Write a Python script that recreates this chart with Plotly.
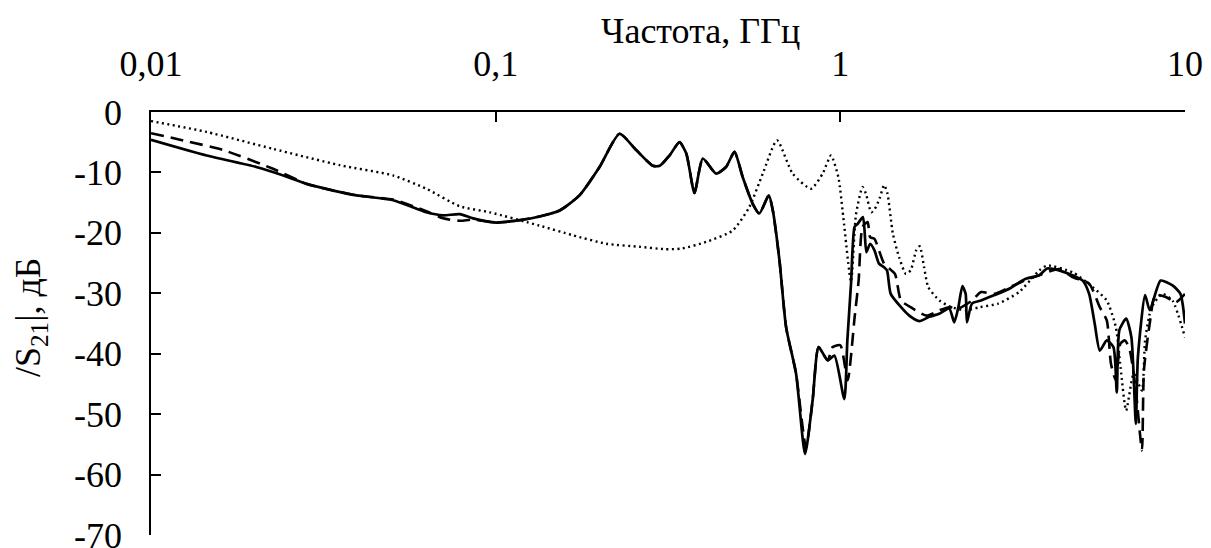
import plotly.graph_objects as go

# Frequency (GHz) and |S21| (dB)
freq_solid = [0.01, 0.0145, 0.0202, 0.0242, 0.0283, 0.0338, 0.0395, 0.0504, 0.0629, 0.0704,
              0.0787, 0.086, 0.1005, 0.1174, 0.134, 0.1533, 0.175, 0.2002, 0.2288, 0.2557,
              0.2858, 0.2993, 0.3194, 0.3415, 0.3575, 0.3774, 0.399, 0.436, 0.466, 0.493,
              0.521, 0.557, 0.582, 0.620, 0.637, 0.666, 0.696, 0.744, 0.790, 0.831,
              0.865, 0.919, 0.961, 1.027, 1.048, 1.074, 1.1, 1.123, 1.163, 1.19, 1.22, 1.256,
              1.295, 1.34, 1.366, 1.4, 1.5, 1.585, 1.694, 1.811, 1.936, 2.07,
              2.14, 2.2, 2.26, 2.31, 2.33, 2.41, 2.56, 2.8, 3.1, 3.45,
              3.78, 3.98, 4.31, 4.71, 5.05, 5.27, 5.47, 5.66, 5.93, 6.2, 6.34,
              6.45, 6.75, 6.99, 7.2, 7.3, 7.66, 7.9, 8.5, 9.2, 9.7, 10.0]
s21_solid = [-4.6, -7.2, -9.1, -10.5, -11.9, -13.0, -13.8, -14.6, -16.6, -17.1,
             -16.9, -17.6, -18.3, -17.9, -17.3, -16.3, -13.8, -9.1, -3.6, -6.3,
             -8.9, -8.9, -7.2, -5.0, -6.9, -13.4, -7.7, -10.2, -9.1, -6.6,
             -10.8, -15.2, -16.8, -13.8, -16.3, -24.6, -35.6, -43.3, -56.6, -47.7,
             -38.9, -41.1, -40.3, -47.5, -37.8, -28.4, -19.0, -18.5, -17.4, -23.2, -21.8, -22.9,
             -25.1, -25.7, -26.2, -30.1, -32.3, -33.7, -34.6, -33.9, -33.4, -32.5,
             -34.8, -32.3, -28.8, -30.1, -34.8, -31.7, -31.2, -30.3, -29.2, -27.6,
             -27.0, -25.9, -26.2, -27.0, -27.9, -30.1, -35.0, -39.5, -37.8, -38.9, -46.4,
             -36.1, -34.2, -37.3, -51.6, -40.6, -30.3, -32.8, -27.9, -28.7, -30.1, -35.0]

freq_dashed = [0.01, 0.0124, 0.0162, 0.0226, 0.0283, 0.0338, 0.0395, 0.0504, 0.0629, 0.0704,
               0.0787, 0.086, 0.1005, 0.1174, 0.134, 0.1533, 0.175, 0.2002, 0.2288, 0.2557,
               0.2858, 0.2993, 0.3194, 0.3415, 0.3575, 0.3774, 0.399, 0.436, 0.466, 0.493,
               0.521, 0.557, 0.582, 0.620, 0.637, 0.666, 0.696, 0.744, 0.795, 0.831,
               0.865, 0.919, 0.95, 1.0, 1.05, 1.1, 1.13, 1.16, 1.2, 1.22,
               1.256, 1.34, 1.44, 1.5, 1.62, 1.78, 1.94, 2.07, 2.2, 2.41,
               2.56, 2.8, 3.1, 3.45, 3.78, 4.31, 4.71, 5.27, 5.66, 5.93,
               6.1, 6.3, 6.5, 6.7, 6.92, 7.2, 7.5, 7.6, 7.9, 8.2,
               8.8, 9.4, 10.0]
s21_dashed = [-3.5, -4.7, -6.3, -9.4, -11.9, -13.0, -13.8, -14.5, -16.4, -17.6,
              -18.0, -17.8, -18.3, -17.9, -17.3, -16.3, -13.8, -9.1, -3.6, -6.3,
              -8.9, -8.9, -7.2, -5.0, -6.9, -13.4, -7.7, -10.2, -9.1, -6.6,
              -10.8, -15.2, -16.8, -13.8, -16.3, -24.6, -35.6, -43.3, -55.5, -47.7,
              -38.9, -41.1, -38.9, -38.6, -44.4, -34.0, -27.9, -19.0, -18.2, -20.7,
              -21.0, -25.1, -26.8, -31.2, -32.5, -33.7, -32.8, -32.3, -32.5, -31.2,
              -29.8, -30.1, -29.0, -27.8, -27.0, -26.0, -27.3, -28.4, -32.3, -34.5,
              -41.7, -44.4, -38.3, -37.8, -39.5, -46.1, -56.0, -42.8, -35.0, -30.3,
              -30.6, -31.5, -30.1]

freq_dotted = [0.01, 0.0145, 0.0226, 0.0353, 0.0504, 0.0629, 0.0787, 0.0961, 0.134, 0.1675,
               0.2094, 0.2615, 0.310, 0.3463, 0.408, 0.4875, 0.5447, 0.5956, 0.6551, 0.7275,
               0.8222, 0.8885, 0.9395, 0.987, 1.02, 1.074, 1.11, 1.16, 1.186, 1.23,
               1.26, 1.3, 1.34, 1.37, 1.42, 1.48, 1.55, 1.6, 1.66, 1.7,
               1.75, 1.8, 1.94, 2.1, 2.31, 2.54, 2.87, 3.3, 3.78, 3.98,
               4.71, 5.4, 5.93, 6.3, 6.5, 6.75, 7.1, 7.5, 7.66, 8.0,
               8.6, 9.2, 10.0]
s21_dotted = [-1.5, -3.3, -6.1, -8.8, -10.5, -12.7, -15.6, -16.6, -18.8, -20.4,
              -21.8, -22.3, -22.7, -22.6, -21.5, -19.6, -15.7, -10.2, -4.7, -10.2,
              -12.7, -10.2, -7.2, -10.8, -17.4, -28.1, -17.0, -12.4, -13.5, -16.6,
              -16.0, -14.3, -12.1, -13.5, -20.1, -24.0, -26.8, -26.2, -22.9, -22.2,
              -25.7, -29.0, -31.2, -32.3, -32.8, -32.3, -31.7, -29.8, -26.2, -25.4,
              -26.5, -29.0, -31.2, -35.6, -42.2, -49.4, -43.3, -46.1, -37.8, -32.3,
              -30.1, -31.2, -37.3]

x_tickvals = [0.01, 0.1, 1, 10]
x_ticktext = ["0,01", "0,1", "1", "10"]
y_tickvals = [0, -10, -20, -30, -40, -50, -60, -70]
y_ticktext = ["0", "-10", "-20", "-30", "-40", "-50", "-60", "-70"]

FONT = "Liberation Serif"
FS = 36

fig = go.Figure()
fig.add_trace(go.Scatter(x=freq_dotted, y=s21_dotted, mode="lines",
                         line=dict(color="black", width=2.4, dash="2px,3.5px", shape="spline", smoothing=0.6)))
fig.add_trace(go.Scatter(x=freq_dashed, y=s21_dashed, mode="lines",
                         line=dict(color="black", width=2.6, dash="13px,7px", shape="spline", smoothing=0.6)))
fig.add_trace(go.Scatter(x=freq_solid, y=s21_solid, mode="lines",
                         line=dict(color="black", width=2.7, shape="spline", smoothing=0.6)))

# page body adds an 8px offset; the figure is sized so the plot area lands at
# x 151..1185, y 112..535 of the window
fig.update_layout(
    width=1203, height=540,
    margin=dict(l=143, r=26, t=104, b=13),
    paper_bgcolor="white", plot_bgcolor="white",
    showlegend=False,
    font=dict(family=FONT, size=FS, color="black"),
    xaxis=dict(type="log", range=[-2, 1], side="top", automargin=False,
               tickvals=x_tickvals, ticktext=x_ticktext,
               ticks="inside", ticklen=10, tickwidth=1.5, tickcolor="black",
               showline=True, linecolor="black", linewidth=1.5,
               showgrid=False, zeroline=False, ticklabelstandoff=20,
               ticklabeloverflow="allow",
               tickfont=dict(family=FONT, size=FS)),
    yaxis=dict(range=[-70, 0], tickvals=y_tickvals, ticktext=y_ticktext, automargin=False,
               ticks="inside", ticklen=10, tickwidth=1.5, tickcolor="black",
               showline=True, linecolor="black", linewidth=1.5,
               showgrid=False, zeroline=False, ticklabelstandoff=20,
               ticklabeloverflow="allow",
               tickfont=dict(family=FONT, size=FS)),
    annotations=[
        dict(text="Частота, ГГц", xref="paper", yref="paper",
             x=(700 - 151) / 1034, y=(535 - 31) / 423,
             xanchor="center", yanchor="middle", showarrow=False,
             font=dict(family=FONT, size=FS)),
        dict(text="/S<sub>21</sub>|, дБ", xref="paper", yref="paper",
             x=(30 - 151) / 1034, y=(535 - 318) / 423, textangle=-90,
             xanchor="center", yanchor="middle", showarrow=False,
             font=dict(family=FONT, size=FS)),
    ],
)

fig.write_html("out.html")
